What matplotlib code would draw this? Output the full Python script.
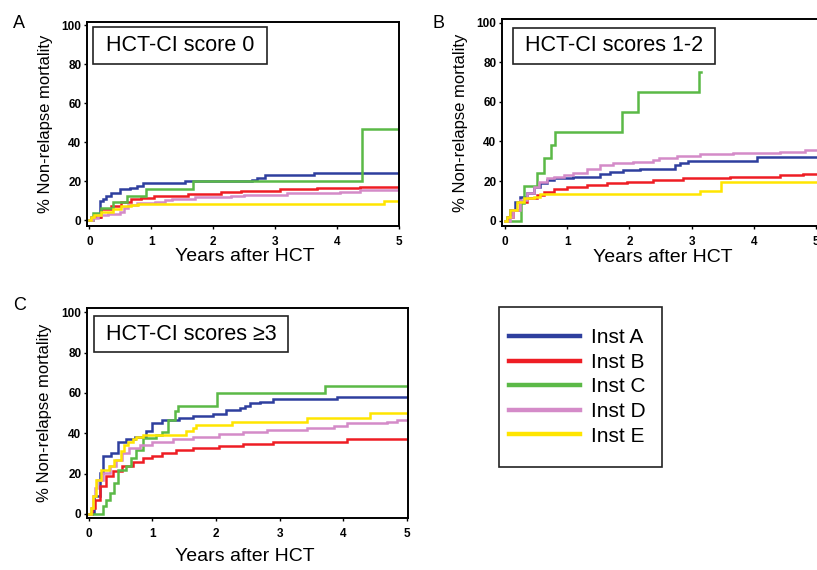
import matplotlib
matplotlib.use("Agg")
import matplotlib.pyplot as plt
from matplotlib.patches import Rectangle

plt.rcParams['font.family'] = ['Liberation Sans', 'DejaVu Sans']

# ---------------- data ----------------
institutions = ["Inst A", "Inst B", "Inst C", "Inst D", "Inst E"]
colors = ["#2E3F9E", "#EE1D24", "#5BB947", "#D48BC8", "#FFE500"]
panel_titles = ["HCT-CI score 0", "HCT-CI scores 1-2", "HCT-CI scores \u22653"]
panel_letters = ["A", "B", "C"]
x_ticks = [0, 1, 2, 3, 4, 5]
y_ticks = [0, 20, 40, 60, 80, 100]
x_label = "Years after HCT"
y_label = "% Non-relapse mortality"

# Panel A (score 0): years, cumulative NRM %
A_t_instA = [0, 0.03, 0.17, 0.22, 0.27, 0.35, 0.49, 0.65, 0.76, 0.87, 1.54, 2.62, 2.70, 2.84, 3.62, 5.0]
A_y_instA = [0, 1.7, 9.9, 11.0, 12.3, 13.7, 15.9, 16.6, 17.6, 18.8, 20.0, 20.5, 21.4, 23.1, 24.4, 24.4]
A_t_instB = [0, 0.05, 0.19, 0.35, 0.51, 0.67, 0.83, 1.05, 1.59, 2.13, 2.45, 3.08, 3.67, 4.37, 5.0]
A_y_instB = [0, 1.7, 5.5, 7.2, 9.4, 10.8, 11.6, 12.3, 13.3, 14.5, 15.2, 16.0, 16.6, 17.1, 17.1]
A_t_instC = [0, 0.05, 0.19, 0.38, 0.60, 0.92, 1.67, 4.40, 5.0]
A_y_instC = [0, 3.6, 6.0, 9.4, 12.3, 16.2, 20.0, 46.5, 46.5]
A_t_instD = [0, 0.05, 0.14, 0.30, 0.49, 0.55, 0.62, 0.76, 1.06, 1.22, 1.33, 1.70, 2.29, 2.50, 3.19, 4.05, 4.37, 5.0]
A_y_instD = [0, 0.9, 2.6, 3.4, 4.3, 6.0, 7.7, 8.9, 9.4, 10.3, 11.1, 12.0, 12.5, 13.1, 13.7, 14.5, 15.4, 15.4]
A_t_instE = [0, 0.03, 0.08, 0.19, 0.38, 0.51, 0.67, 0.78, 4.75, 5.0]
A_y_instE = [0, 1.5, 2.6, 4.3, 5.5, 7.2, 7.7, 8.1, 9.7, 9.7]

# Panel B (scores 1-2)
B_t_instA = [0, 0.03, 0.08, 0.16, 0.24, 0.35, 0.46, 0.56, 0.67, 0.78, 1.10, 1.53, 1.69, 1.90, 2.17, 2.73, 2.81, 2.95, 4.05, 5.05]
B_y_instA = [0, 2.0, 5.4, 9.6, 12.1, 13.8, 17.2, 18.9, 20.6, 21.4, 22.2, 23.4, 24.7, 25.6, 26.1, 28.1, 29.0, 30.1, 32.0, 32.0]
B_t_instB = [0, 0.05, 0.13, 0.24, 0.35, 0.51, 0.62, 0.78, 0.99, 1.31, 1.64, 1.96, 2.38, 2.87, 3.62, 4.42, 4.80, 5.05]
B_y_instB = [0, 2.0, 5.4, 9.6, 11.3, 13.0, 14.6, 15.8, 17.2, 18.0, 18.9, 19.7, 20.6, 21.4, 22.2, 23.1, 23.4, 23.4]
B_t_instC = [0, 0.26, 0.31, 0.52, 0.62, 0.74, 0.81, 1.88, 2.14, 3.12, 3.15]
B_y_instC = [0, 8.8, 17.5, 24.3, 31.5, 38.2, 45.0, 55.0, 65.2, 75.2, 75.2]
B_t_instD = [0, 0.08, 0.13, 0.24, 0.35, 0.46, 0.54, 0.67, 0.78, 0.94, 1.10, 1.31, 1.53, 1.74, 2.06, 2.38, 2.47, 2.76, 3.14, 3.67, 4.42, 4.82, 5.05]
B_y_instD = [0, 2.0, 5.4, 10.5, 13.8, 17.2, 19.7, 21.4, 22.2, 23.1, 24.3, 26.0, 28.3, 29.0, 29.8, 30.7, 31.8, 32.7, 33.5, 34.2, 34.9, 35.7, 35.7]
B_t_instE = [0, 0.03, 0.08, 0.19, 0.30, 0.46, 0.56, 3.14, 3.48, 5.05]
B_y_instE = [0, 2.0, 5.4, 9.6, 11.3, 12.1, 13.3, 15.0, 19.7, 19.7]

# Panel C (scores >=3)
C_t_instA = [0, 0.03, 0.09, 0.17, 0.22, 0.35, 0.46, 0.59, 0.72, 0.90, 1.00, 1.16, 1.42, 1.64, 1.95, 2.16, 2.38, 2.46, 2.54, 2.69, 2.90, 3.90, 5.0]
C_y_instA = [0, 0.5, 8.7, 20.3, 28.5, 30.2, 35.9, 37.1, 38.4, 40.9, 45.0, 46.7, 47.8, 48.7, 49.7, 51.3, 52.5, 53.3, 55.0, 55.7, 56.9, 57.9, 57.9]
C_t_instB = [0, 0.05, 0.10, 0.17, 0.27, 0.38, 0.53, 0.69, 0.85, 1.00, 1.16, 1.37, 1.64, 2.05, 2.42, 2.90, 4.06, 5.0]
C_y_instB = [0, 3.0, 6.7, 13.7, 18.6, 21.1, 23.6, 26.0, 27.7, 28.9, 30.2, 31.5, 32.7, 33.8, 34.8, 35.9, 37.1, 37.1]
C_t_instC = [0, 0.22, 0.27, 0.33, 0.40, 0.46, 0.59, 0.67, 0.74, 0.85, 1.06, 1.15, 1.24, 1.35, 1.40, 2.01, 3.72, 5.0]
C_y_instC = [0, 3.8, 7.1, 10.4, 15.3, 21.9, 23.6, 27.7, 31.8, 37.6, 39.3, 40.5, 46.7, 50.8, 53.6, 60.2, 63.2, 63.2]
C_t_instD = [0, 0.03, 0.07, 0.10, 0.13, 0.22, 0.33, 0.43, 0.53, 0.64, 0.80, 1.00, 1.32, 1.64, 2.05, 2.42, 2.80, 3.43, 3.85, 4.06, 4.69, 4.84, 5.0]
C_y_instD = [0, 3.0, 8.7, 13.0, 17.0, 20.3, 23.6, 26.9, 30.2, 32.7, 34.3, 35.9, 37.1, 38.4, 39.6, 40.7, 41.7, 42.6, 43.7, 45.0, 45.8, 46.7, 46.7]
C_t_instE = [0, 0.03, 0.07, 0.11, 0.19, 0.32, 0.40, 0.51, 0.56, 0.61, 0.69, 0.74, 0.85, 1.53, 1.64, 1.69, 2.26, 3.43, 4.42, 5.0]
C_y_instE = [0, 3.0, 8.7, 17.0, 21.9, 23.6, 26.9, 31.0, 34.3, 35.9, 37.3, 38.4, 39.2, 40.9, 42.5, 44.2, 45.8, 47.5, 50.0, 50.0]

panels = [
    [(A_t_instA, A_y_instA), (A_t_instB, A_y_instB), (A_t_instC, A_y_instC), (A_t_instD, A_y_instD), (A_t_instE, A_y_instE)],
    [(B_t_instA, B_y_instA), (B_t_instB, B_y_instB), (B_t_instC, B_y_instC), (B_t_instD, B_y_instD), (B_t_instE, B_y_instE)],
    [(C_t_instA, C_y_instA), (C_t_instB, C_y_instB), (C_t_instC, C_y_instC), (C_t_instD, C_y_instD), (C_t_instE, C_y_instE)],
]

# ---------------- layout (pixels) ----------------
W, H = 817, 570
fig = plt.figure(figsize=(W / 100, H / 100), dpi=100)

def px_axes(left, top, right, bottom):
    return fig.add_axes([left / W, 1 - bottom / H, (right - left) / W, (bottom - top) / H])

axes_px = [(87, 22, 399, 226), (502, 19, 819, 226), (87, 308, 408, 518)]
xlims = [(-0.04, 5.0), (-0.05, 5.05), (-0.027, 5.02)]
ylims = [(-3.0, 101.6), (-2.7, 101.9), (-2.0, 102.1)]
title_boxes = [(0.019, 0.794, 0.558, 0.181), (0.035, 0.783, 0.637, 0.174), (0.022, 0.790, 0.605, 0.172)]
ylabel_x = [-0.108, -0.107, -0.11]
xlabel_y = [-0.108, -0.111, -0.143]
xlabel_x = [0.506, 0.508, 0.493]
letter_pos = [(13, 28), (432, 28), (13, 310)]

all_lines = None
for i, (ax_px, data) in enumerate(zip(axes_px, panels)):
    ax = px_axes(*ax_px)
    lines = []
    for (t, y), c, name in zip(data, colors, institutions):
        ln, = ax.step(t, y, where='post', color=c, lw=1.8, label=name, solid_joinstyle='miter')
        lines.append(ln)
    if all_lines is None:
        all_lines = lines
    ax.set_xlim(*xlims[i])
    ax.set_ylim(*ylims[i])
    ax.set_xticks(x_ticks)
    ax.set_yticks(y_ticks)
    ax.tick_params(axis='both', direction='out', length=2.5, width=1.0, labelsize=8.5)
    ax.tick_params(axis='x', pad=4.5)
    ax.tick_params(axis='y', pad=1.5)
    for lab in ax.get_xticklabels() + ax.get_yticklabels():
        lab.set_fontweight('bold')
    for sp in ax.spines.values():
        sp.set_linewidth(1.4)
        sp.set_color('black')
    ax.set_ylabel(y_label, fontsize=12)
    ax.yaxis.set_label_coords(ylabel_x[i], 0.5)
    ax.set_xlabel(x_label, fontsize=14)
    ax.xaxis.set_label_coords(xlabel_x[i], xlabel_y[i])
    bx, by, bw, bh = title_boxes[i]
    ax.add_patch(Rectangle((bx, by), bw, bh, transform=ax.transAxes, fill=False,
                           edgecolor='#222222', lw=1.2, zorder=5))
    ax.text(bx + bw / 2, by + bh / 2, panel_titles[i], transform=ax.transAxes,
            ha='center', va='center', fontsize=15.5, zorder=6)
    lx, ly = letter_pos[i]
    fig.text(lx / W, 1 - ly / H, panel_letters[i], fontsize=13, va='baseline', ha='left')

# legend
leg_left, leg_top, leg_right, leg_bottom = 499, 307, 662, 467
leg = fig.legend(handles=all_lines, labels=institutions, loc='center',
                 bbox_to_anchor=((leg_left + leg_right) / 2 / W - 0.0037, 1 - (leg_top + leg_bottom) / 2 / H),
                 frameon=False, fontsize=15, handlelength=3.4, handletextpad=0.55,
                 labelspacing=0.27, borderpad=0.3)
for l in leg.get_lines():
    l.set_linewidth(3.2)
fig.add_artist(Rectangle((leg_left / W, 1 - leg_bottom / H), (leg_right - leg_left) / W,
                         (leg_bottom - leg_top) / H, transform=fig.transFigure, fill=False,
                         edgecolor='#222222', lw=1.2))

fig.savefig("out.png", dpi=100)
